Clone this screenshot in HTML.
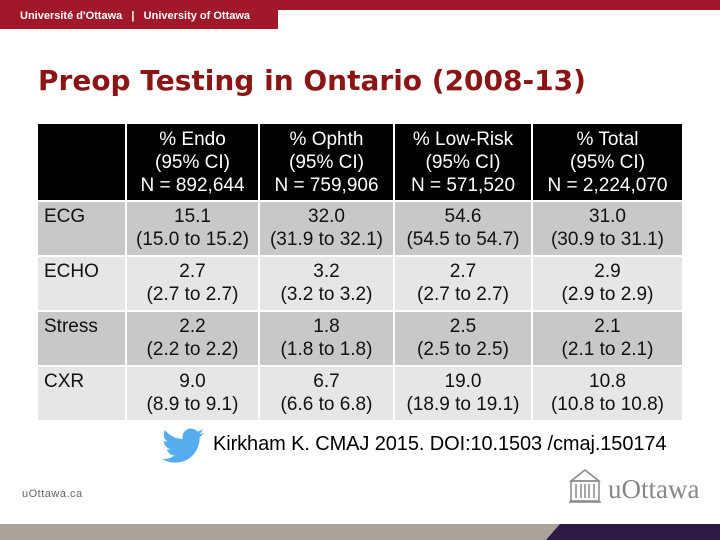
<!DOCTYPE html>
<html><head><meta charset="utf-8"><style>
body{margin:0;width:720px;height:540px;overflow:hidden;background:#fff;font-family:"Liberation Sans",Arial,sans-serif;position:relative}
.abs{position:absolute}
td{padding:0;font-size:19px;line-height:23px;color:#111;text-align:center;vertical-align:top}
table{border-collapse:separate;border-spacing:2px;position:absolute;left:36px;top:122px}
th{background:#000;color:#fff;font-weight:normal;font-size:19px;line-height:23px;height:76px;padding:0;vertical-align:middle}
td.l{text-align:left;padding-left:6px}
tr.d td{background:#c8c8c8}
tr.w td{background:#e6e6e6}
tr.r td{height:53px;padding-top:3px;box-sizing:border-box}
</style></head><body>
<div class="abs" style="left:0;top:0;width:720px;height:10px;background:#a0182a"></div>
<div class="abs" style="left:0;top:0;width:278px;height:29px;background:#a0182a;color:#fff;font-size:11px;font-weight:bold;line-height:32px;padding-left:20px;box-sizing:border-box;white-space:nowrap">Université d'Ottawa &nbsp;&nbsp;|&nbsp;&nbsp; University of Ottawa</div>
<div class="abs" style="left:38px;top:64px;font-family:'DejaVu Sans',Verdana,sans-serif;font-weight:bold;font-size:28px;color:#8b1515;white-space:nowrap">Preop Testing in Ontario (2008-13)</div>
<table>
<tr><th style="width:87px"></th>
<th style="width:131px">% Endo<br>(95% CI)<br>N = 892,644</th>
<th style="width:133px">% Ophth<br>(95% CI)<br>N = 759,906</th>
<th style="width:136px">% Low-Risk<br>(95% CI)<br>N = 571,520</th>
<th style="width:149px">% Total<br>(95% CI)<br>N = 2,224,070</th></tr>
<tr class="d r"><td class="l">ECG</td><td>15.1<br>(15.0 to 15.2)</td><td>32.0<br>(31.9 to 32.1)</td><td>54.6<br>(54.5 to 54.7)</td><td>31.0<br>(30.9 to 31.1)</td></tr>
<tr class="w r"><td class="l">ECHO</td><td>2.7<br>(2.7 to 2.7)</td><td>3.2<br>(3.2 to 3.2)</td><td>2.7<br>(2.7 to 2.7)</td><td>2.9<br>(2.9 to 2.9)</td></tr>
<tr class="d r"><td class="l">Stress</td><td>2.2<br>(2.2 to 2.2)</td><td>1.8<br>(1.8 to 1.8)</td><td>2.5<br>(2.5 to 2.5)</td><td>2.1<br>(2.1 to 2.1)</td></tr>
<tr class="w r"><td class="l">CXR</td><td>9.0<br>(8.9 to 9.1)</td><td>6.7<br>(6.6 to 6.8)</td><td>19.0<br>(18.9 to 19.1)</td><td>10.8<br>(10.8 to 10.8)</td></tr>
</table>
<svg class="abs" style="left:162px;top:428px" width="42" height="36" viewBox="0 0 24 20"><path fill="#55acee" d="M24 2.4c-.9.4-1.8.6-2.8.8 1-.6 1.8-1.6 2.2-2.7-1 .6-2 1-3.1 1.2C19.3.7 18 0 16.6 0c-2.7 0-4.9 2.2-4.9 4.9 0 .4 0 .8.1 1.1C7.7 5.8 4.1 3.900 1.7.9c-.4.7-.7 1.6-.7 2.5 0 1.700.9 3.2 2.2 4.1-.8 0-1.6-.2-2.2-.6v.1c0 2.4 1.7 4.4 3.9 4.8-.4.1-.8.2-1.3.2-.3 0-.6 0-.9-.1.6 2 2.4 3.4 4.6 3.4-1.7 1.3-3.8 2.1-6.1 2.1-.4 0-.8 0-1.2-.1 2.2 1.4 4.8 2.2 7.5 2.2 9.1 0 14-7.5 14-14v-.6c1-.7 1.8-1.6 2.5-2.5z"/></svg>
<div class="abs" style="left:213px;top:433px;font-size:20px;color:#000;white-space:nowrap;letter-spacing:-0.1px">Kirkham K. CMAJ 2015. DOI:10.1503 /cmaj.150174</div>
<div class="abs" style="left:22px;top:488px;font-size:11px;color:#666;letter-spacing:0.5px">uOttawa.ca</div>
<svg class="abs" style="left:567px;top:467px" width="36" height="38" viewBox="0 0 36 38"><g fill="none" stroke="#888" stroke-width="1.5"><path d="M4 14 L18 3 L32 14 Z"/><rect x="4" y="14" width="28" height="20"/><path d="M9 17v14M14 17v14M18 17v14M22 17v14M27 17v14M2 35h32"/></g></svg>
<div class="abs" style="left:608px;top:474px;font-family:'Liberation Serif',serif;font-size:27px;color:#888">uOttawa</div>
<div class="abs" style="left:0;top:524px;width:720px;height:16px;background:#aaa39a"></div>
<div class="abs" style="left:546px;top:524px;width:174px;height:16px;background:#2d1a47;clip-path:polygon(8% 0,100% 0,100% 100%,0 100%)"></div>
</body></html>
